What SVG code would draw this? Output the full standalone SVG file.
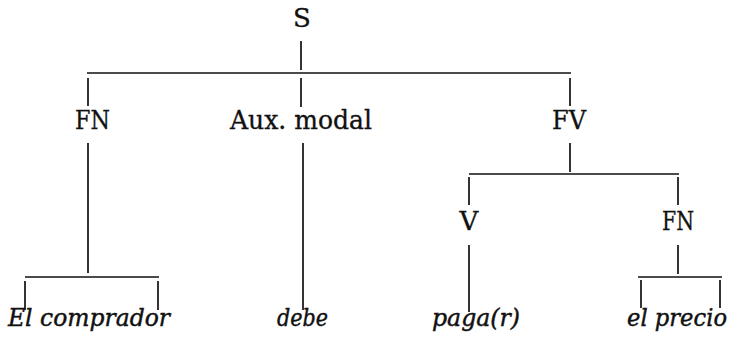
<svg xmlns="http://www.w3.org/2000/svg" width="738" height="340" viewBox="0 0 738 340">
<style>
  .lbl { font-family: "DejaVu Serif", "Liberation Serif", serif; font-size: 26px; fill: #111; stroke: #111; stroke-width: 0.35; }
  .it { font-style: italic; font-size: 24.5px; stroke-width: 0.45; }
  .ln { stroke: #111; stroke-width: 1.7; fill: none; stroke-linecap: butt; }
</style>
<rect width="738" height="340" fill="#fff"/>
<g id="connectors">
  <path class="ln" d="M301 41V70 M87 73H571 M88 78V106 M301 78V107 M570 78V106"/>
  <path class="ln" d="M88 143V273 M25 277H159 M25 281V310 M158 281V310"/>
  <path class="ln" d="M303 143V310"/>
  <path class="ln" d="M570 143V172 M469 174H679 M469 177V205 M678 177V205"/>
  <path class="ln" d="M469 245V312"/>
  <path class="ln" d="M678 245V274 M638 277H722 M641 280V308 M720 280V308"/>
</g>
<g id="n-S"><text class="lbl" x="302" y="27" text-anchor="middle">S</text></g>
<g id="n-FN1"><text class="lbl" x="75" y="129" textLength="35" lengthAdjust="spacingAndGlyphs">FN</text></g>
<g id="n-Aux"><text class="lbl" x="230" y="129" textLength="142" lengthAdjust="spacingAndGlyphs">Aux. modal</text></g>
<g id="n-FV"><text class="lbl" x="552" y="129" textLength="34" lengthAdjust="spacingAndGlyphs">FV</text></g>
<g id="n-V"><text class="lbl" x="469" y="230" text-anchor="middle">V</text></g>
<g id="n-FN2"><text class="lbl" x="662" y="230" textLength="32" lengthAdjust="spacingAndGlyphs">FN</text></g>
<g id="n-El"><text class="lbl it" x="8" y="326" textLength="162" lengthAdjust="spacingAndGlyphs">El comprador</text></g>
<g id="n-debe"><text class="lbl it" x="277" y="326" textLength="51" lengthAdjust="spacingAndGlyphs">debe</text></g>
<g id="n-paga"><text class="lbl it" x="432" y="326" textLength="88" lengthAdjust="spacingAndGlyphs">paga(r)</text></g>
<g id="n-precio"><text class="lbl it" x="627" y="326" textLength="100" lengthAdjust="spacingAndGlyphs">el precio</text></g>
</svg>
